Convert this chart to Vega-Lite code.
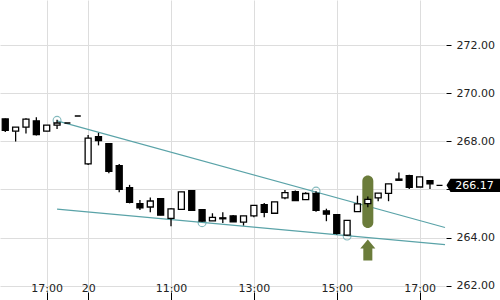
{
  "$schema": "https://vega.github.io/schema/vega-lite/v6.json",
  "width": 445,
  "height": 300,
  "autosize": {"type": "none"},
  "padding": {"left": 0, "top": 0, "right": 55, "bottom": 0},
  "background": "white",
  "config": {
    "view": {"stroke": null},
    "font": "DejaVu Sans"
  },
  "datasets": {
    "candles": [
      {"k": 0, "o": 268.93, "h": 268.95, "l": 268.39, "c": 268.45},
      {"k": 1, "o": 268.42, "h": 268.59, "l": 267.99, "c": 268.59},
      {"k": 2, "o": 268.59, "h": 268.96, "l": 268.32, "c": 268.92},
      {"k": 3, "o": 268.85, "h": 269.00, "l": 268.24, "c": 268.28},
      {"k": 4, "o": 268.42, "h": 268.67, "l": 268.42, "c": 268.67},
      {"k": 5, "o": 268.67, "h": 268.89, "l": 268.51, "c": 268.76},
      {"k": 6, "o": 268.76, "h": 268.76, "l": 268.76, "c": 268.76},
      {"k": 7, "o": 269.05, "h": 269.05, "l": 269.05, "c": 269.05},
      {"k": 8, "o": 267.06, "h": 268.26, "l": 267.01, "c": 268.13},
      {"k": 9, "o": 268.19, "h": 268.35, "l": 267.83, "c": 268.03},
      {"k": 10, "o": 267.90, "h": 267.92, "l": 266.67, "c": 266.75},
      {"k": 11, "o": 266.99, "h": 267.06, "l": 265.88, "c": 266.00},
      {"k": 12, "o": 266.07, "h": 266.19, "l": 265.42, "c": 265.46},
      {"k": 13, "o": 265.41, "h": 265.56, "l": 265.15, "c": 265.23},
      {"k": 14, "o": 265.27, "h": 265.66, "l": 265.05, "c": 265.52},
      {"k": 15, "o": 265.62, "h": 265.62, "l": 264.93, "c": 264.93},
      {"k": 16, "o": 264.80, "h": 265.22, "l": 264.47, "c": 265.19},
      {"k": 17, "o": 265.17, "h": 265.90, "l": 265.17, "c": 265.90},
      {"k": 18, "o": 265.95, "h": 265.95, "l": 265.13, "c": 265.13},
      {"k": 19, "o": 265.16, "h": 265.16, "l": 264.66, "c": 264.68},
      {"k": 20, "o": 264.69, "h": 265.01, "l": 264.69, "c": 264.84},
      {"k": 21, "o": 264.82, "h": 265.05, "l": 264.61, "c": 264.78},
      {"k": 22, "o": 264.90, "h": 264.94, "l": 264.65, "c": 264.65},
      {"k": 23, "o": 264.64, "h": 264.90, "l": 264.50, "c": 264.90},
      {"k": 24, "o": 264.90, "h": 265.34, "l": 264.84, "c": 265.34},
      {"k": 25, "o": 265.37, "h": 265.44, "l": 264.84, "c": 265.05},
      {"k": 26, "o": 265.01, "h": 265.48, "l": 265.01, "c": 265.48},
      {"k": 27, "o": 265.65, "h": 265.98, "l": 265.59, "c": 265.87},
      {"k": 28, "o": 265.91, "h": 265.96, "l": 265.54, "c": 265.54},
      {"k": 29, "o": 265.58, "h": 265.88, "l": 265.58, "c": 265.83},
      {"k": 30, "o": 265.83, "h": 265.92, "l": 265.07, "c": 265.13},
      {"k": 31, "o": 265.11, "h": 265.20, "l": 264.68, "c": 264.97},
      {"k": 32, "o": 264.95, "h": 264.95, "l": 264.13, "c": 264.17},
      {"k": 33, "o": 264.10, "h": 264.71, "l": 264.08, "c": 264.71},
      {"k": 34, "o": 265.08, "h": 265.74, "l": 265.08, "c": 265.40},
      {"k": 35, "o": 265.41, "h": 265.71, "l": 265.26, "c": 265.59},
      {"k": 36, "o": 265.65, "h": 265.85, "l": 265.51, "c": 265.85},
      {"k": 37, "o": 265.84, "h": 266.23, "l": 265.51, "c": 266.23},
      {"k": 38, "o": 266.43, "h": 266.70, "l": 266.38, "c": 266.38},
      {"k": 39, "o": 266.57, "h": 266.61, "l": 266.02, "c": 266.09},
      {"k": 40, "o": 266.10, "h": 266.52, "l": 266.10, "c": 266.52},
      {"k": 41, "o": 266.36, "h": 266.36, "l": 266.02, "c": 266.23}
    ],
    "trend": [
      {"line": "upper", "k": 5, "p": 268.85},
      {"line": "upper", "k": 42.45, "p": 264.42},
      {"line": "lower", "k": 5, "p": 265.18},
      {"line": "lower", "k": 42.45, "p": 263.71}
    ],
    "touches": [
      {"k": 5, "p": 268.87},
      {"k": 19, "p": 264.62},
      {"k": 30, "p": 265.93},
      {"k": 33, "p": 264.06}
    ],
    "highlight": [{"k": 35, "lo": 264.4, "hi": 266.58}],
    "arrow": [{"k": 35, "p": 263.48}],
    "last": [{"p": 266.17, "label": "266.17"}]
  },
  "encoding": {
    "x": {
      "field": "k",
      "type": "quantitative",
      "scale": {"domain": [-0.508, 42.45], "nice": false, "zero": false, "padding": 0},
      "axis": {
        "orient": "bottom",
        "title": null,
        "offset": -8,
        "domain": false,
        "tickSize": 8,
        "tickColor": "#000000",
        "labelPadding": -9,
        "labelBaseline": "alphabetic",
        "labelFontSize": 11,
        "labelColor": "#222222",
        "labelFont": "DejaVu Sans",
        "labelFlush": false,
        "grid": true,
        "gridColor": "#dddddd",
        "values": [4, 8, 16, 24, 32, 40],
        "labelExpr": "datum.value == 4 ? '17:00' : datum.value == 8 ? '20' : datum.value == 16 ? '11:00' : datum.value == 24 ? '13:00' : datum.value == 32 ? '15:00' : '17:00'"
      }
    }
  },
  "layer": [
    {
      "data": {"name": "trend"},
      "mark": {"type": "line", "color": "#5aa3a8", "strokeWidth": 1.2},
      "encoding": {
        "y": {
          "field": "p",
          "type": "quantitative",
          "scale": {"domain": [261.406, 273.87], "nice": false, "zero": false},
          "axis": {
            "orient": "right",
            "title": null,
            "offset": 1,
            "domain": false,
            "tickSize": 5,
            "tickColor": "#000000",
            "labelPadding": 5,
            "labelFontSize": 11,
            "labelColor": "#222222",
            "labelFont": "DejaVu Sans",
            "grid": true,
            "gridColor": "#dddddd",
            "values": [262, 264, 266, 268, 270, 272],
            "labelExpr": "datum.value == 266 ? '' : format(datum.value, '.2f')"
          }
        },
        "detail": {"field": "line", "type": "nominal"}
      }
    },
    {
      "data": {"name": "touches"},
      "mark": {"type": "point", "shape": "circle", "filled": false, "color": "#5aa3a8", "opacity": 0.75, "size": 62, "strokeWidth": 1.1},
      "encoding": {
        "y": {"field": "p", "type": "quantitative"}
      }
    },
    {
      "data": {"name": "highlight"},
      "mark": {"type": "bar", "orient": "vertical", "color": "#6b7c3b", "size": 11, "cornerRadius": 5.5},
      "encoding": {
        "y": {"field": "lo", "type": "quantitative"},
        "y2": {"field": "hi"}
      }
    },
    {
      "data": {"name": "candles"},
      "mark": {"type": "rule", "color": "#000000", "strokeWidth": 1.3},
      "encoding": {
        "y": {"field": "l", "type": "quantitative"},
        "y2": {"field": "h"}
      }
    },
    {
      "data": {"name": "candles"},
      "mark": {"type": "bar", "orient": "vertical", "size": 6, "stroke": "#000000", "strokeWidth": 1.3},
      "encoding": {
        "y": {"field": "o", "type": "quantitative"},
        "y2": {"field": "c"},
        "fill": {
          "condition": {"test": "datum.c > datum.o", "value": "#ffffff"},
          "value": "#000000"
        }
      }
    },
    {
      "data": {"name": "arrow"},
      "mark": {
        "type": "point",
        "filled": true,
        "color": "#6b7c3b",
        "opacity": 1,
        "size": 441,
        "shape": "M0,-1 L0.72,-0.14 L0.43,-0.14 L0.43,1 L-0.43,1 L-0.43,-0.14 L-0.72,-0.14 Z"
      },
      "encoding": {
        "y": {"field": "p", "type": "quantitative"}
      }
    },
    {
      "data": {"name": "last"},
      "mark": {
        "type": "point",
        "filled": true,
        "color": "#000000",
        "opacity": 1,
        "size": 400,
        "shape": "M-0.85,-0.06 L-0.25,-0.06 L-0.25,0.06 L-0.85,0.06 Z M0.15,0 L0.55,-0.67 L5.6,-0.67 L5.6,0.67 L0.55,0.67 Z"
      },
      "encoding": {
        "x": {"value": "width"},
        "y": {"field": "p", "type": "quantitative"}
      }
    },
    {
      "data": {"name": "last"},
      "mark": {"type": "text", "color": "#ffffff", "fontSize": 11, "font": "DejaVu Sans", "align": "center", "baseline": "middle", "dx": 29.5, "dy": 0.5},
      "encoding": {
        "x": {"value": "width"},
        "y": {"field": "p", "type": "quantitative"},
        "text": {"field": "label"}
      }
    }
  ]
}
